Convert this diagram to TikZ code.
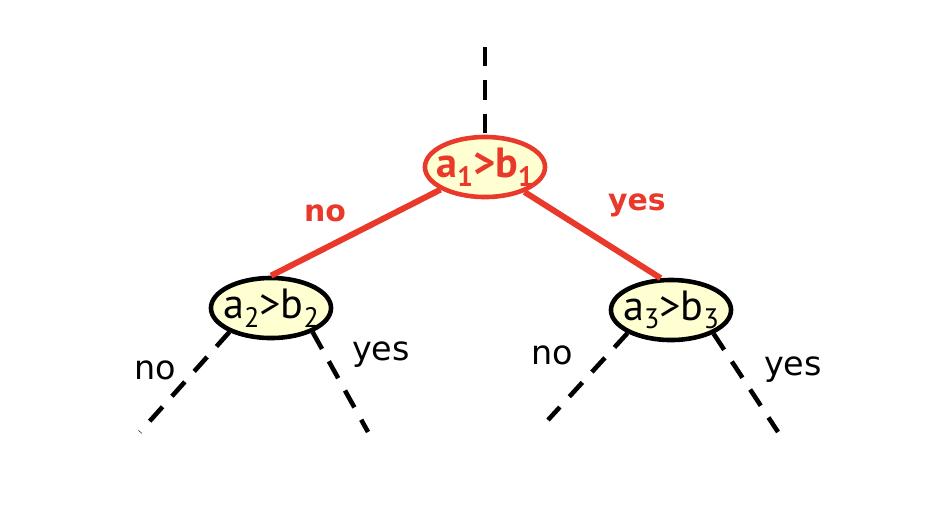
\documentclass[tikz,border=0pt]{standalone}
\usepackage{fontspec}
\setmainfont{DejaVu Sans}
\newfontfamily\testfont{PT Sans}
\usepackage{tikz}
\usetikzlibrary{positioning}
\usetikzlibrary{shapes.geometric}
\definecolor{pathColor}{HTML}{E8392B}
\definecolor{testColor}{HTML}{FFFFD2}
\newcommand{\lo}[1]{\raisebox{-0.4ex}{\fontsize{8}{9}\selectfont #1}}
\newcommand{\cmp}[2]{\makebox[0pt]{a\lo{#1}>b\lo{#2}}}

\tikzset{
  test/.style={ellipse, draw=black, line width=1.3pt, fill=testColor,
    minimum width=1.2cm, minimum height=0.6cm, inner sep=0pt,
    font=\testfont\fontsize{12}{14}\selectfont},
  taken/.style={draw=pathColor, text=pathColor, font=\testfont\fontsize{12}{14}\selectfont\bfseries},
  branch/.style={line width=1.3pt, dash pattern=on 5.5pt off 4pt},
  chosen/.style={draw=pathColor, line width=1.7pt},
  answer/.style={font=\fontsize{9.5}{11}\selectfont},
  picked/.style={text=pathColor, font=\fontsize{8.5}{10}\selectfont\bfseries}
}

\begin{document}
\begin{tikzpicture}[x=0.01cm, y=-0.01cm]
      \useasboundingbox (0,0) rectangle (948,514);

      \node[test, taken] (root) at (485,167) {\cmp{1}{1}};
      \node[test] (left) at (271,308) {\cmp{2}{2}};
      \node[test] (right) at (671,310) {\cmp{3}{3}};

      \coordinate (in) at (485,47);
      \coordinate (ll) at (140,432);
      \coordinate (lr) at (368,432);
      \coordinate (rl) at (548,420);
      \coordinate (rr) at (778,432);

      \draw[branch] (in) -- (root.north);
      \draw[chosen] (root) -- (left.north);
      \draw[chosen] (root) -- (right.108);
      \draw[branch] (left.210) -- (ll);
      \draw[branch] (left.330) -- (lr);
      \draw[branch] (right.208) -- (rl);
      \draw[branch] (right.331) -- (rr);

      \node[picked] (no1) at (325,213) {no};
      \node[picked] (yes1) at (637,205) {yes};
      \node[answer] (no2) at (155,370) {no};
      \node[answer] (yes2) at (381,355) {yes};
      \node[answer] (no3) at (552,355) {no};
      \node[answer] (yes3) at (793,370) {yes};
    \end{tikzpicture}
\end{document}
